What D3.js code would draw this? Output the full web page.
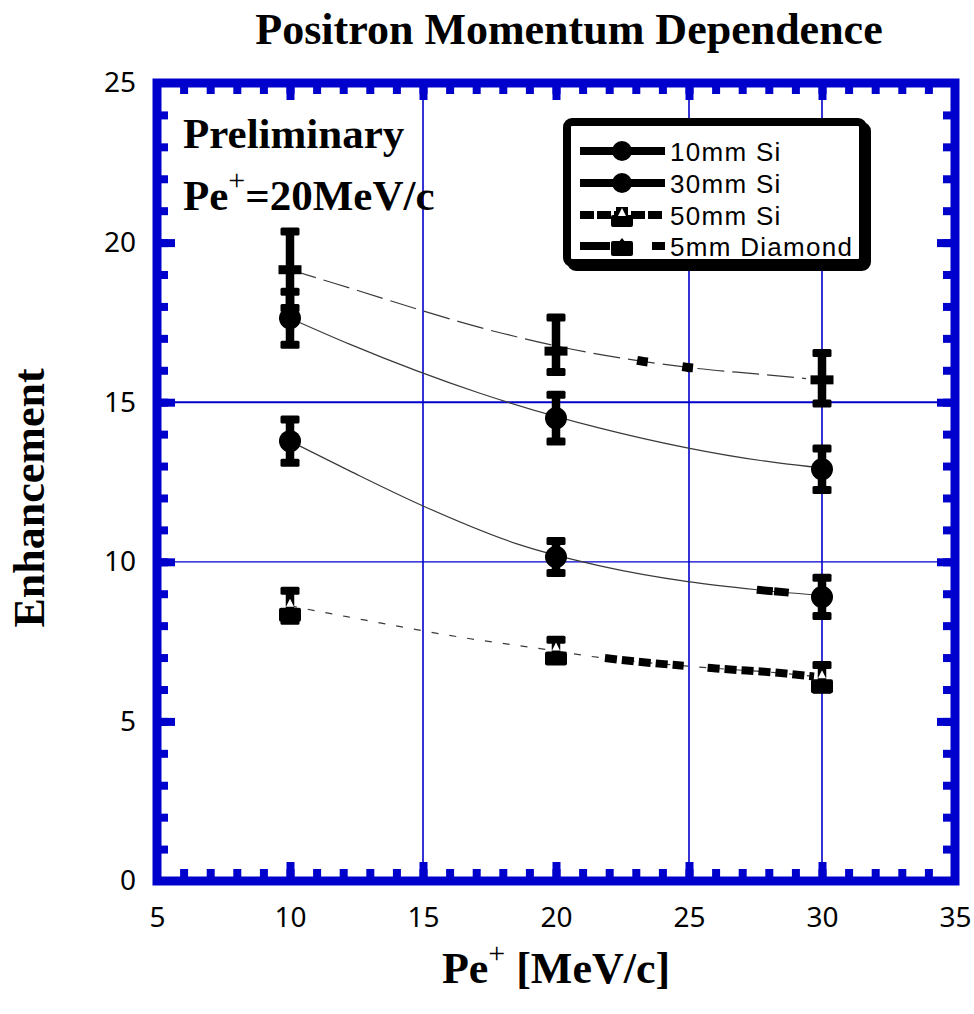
<!DOCTYPE html>
<html><head><meta charset="utf-8">
<script src="https://cdn.jsdelivr.net/npm/d3@7"></script>
<style>body{margin:0;background:#fff}svg{display:block}</style>
</head><body>
<svg id="c" width="974" height="1014"></svg>
<script>
// ---------- data ----------
const xTicks = [5, 10, 15, 20, 25, 30, 35];
const yTicks = [0, 5, 10, 15, 20, 25];
const gridX = [15, 25, 30];
const gridY = [10, 15];
const momentum = [10, 20, 30];
const seriesNames = ["10mm Si", "30mm Si", "50mm Si", "5mm Diamond"];
const si10 = [13.78, 10.15, 8.9];
const si10Err = [0.68, 0.5, 0.6];
const si30 = [17.63, 14.5, 12.9];
const si30Err = [0.83, 0.73, 0.65];
const si50 = [8.62, 7.25, 6.38];
const si50Err = [0.47, 0.31, 0.39];
const dia = [19.15, 16.6, 15.7];
const diaErrUp = [1.2, 1.05, 0.84];
const diaErrDown = [1.2, 0.65, 0.74];
// fitted curves
const fit10X = [10, 12.26, 15, 18.65, 21.65, 24.96, 27.56, 30];
const fit10Y = [13.78, 12.84, 11.75, 10.53, 9.875, 9.38, 9.125, 8.94];
const fit30X = [10, 12.26, 17.14, 21.65, 28.42, 30];
const fit30Y = [17.63, 16.81, 15.28, 14.19, 13.09, 12.94];
const fit50X = [10, 12.14, 16.77, 19.4, 21.65, 23.46, 26.02, 28.65, 30];
const fit50Y = [8.62, 8.28, 7.59, 7.28, 7.0, 6.84, 6.66, 6.5, 6.38];
const fitDX = [10, 11.69, 17.97, 20.6, 23.27, 24.96, 27.67, 29.4];
const fitDY = [19.15, 18.72, 17.16, 16.66, 16.28, 16.09, 15.875, 15.74];
// stretches of the curves drawn with thick dashes
const thick50 = [[21.84, 24.8], [25.7, 29.7]];
const thick10 = [[27.55, 28.15], [28.2, 28.75]];
const thickD = [[23.05, 23.45], [24.75, 25.15]];

// ---------- setup ----------
const svg = d3.select('#c');
const blue = '#0000cc';
const x = d3.scaleLinear().domain([5, 35]).range([157, 955]);
const y = d3.scaleLinear().domain([0, 25]).range([881, 83]);
const line = d3.line().x(d => x(d[0])).y(d => y(d[1])).curve(d3.curveMonotoneX);
const pts = (X, Y) => X.map((v, i) => [v, Y[i]]);

// gridlines
svg.append('g').selectAll('line').data(gridX).join('line')
  .attr('x1', d => x(d)).attr('x2', d => x(d)).attr('y1', y(0)).attr('y2', y(25))
  .attr('stroke', blue).attr('stroke-width', 1.6);
svg.append('g').selectAll('line').data(gridY).join('line')
  .attr('x1', x(5)).attr('x2', x(35)).attr('y1', d => y(d)).attr('y2', d => y(d))
  .attr('stroke', blue).attr('stroke-width', d => d === 15 ? 2 : 1.3);

// thin fit curves
const curveG = svg.append('g').attr('fill', 'none').attr('stroke', '#3a3a3a').attr('stroke-width', 1.2);
curveG.append('path').attr('d', line(pts(fit10X, fit10Y)));
curveG.append('path').attr('d', line(pts(fit30X, fit30Y)));
curveG.append('path').attr('d', line(pts(fit50X, fit50Y))).attr('stroke-dasharray', '7,11');
curveG.append('path').attr('d', line(pts(fitDX, fitDY))).attr('stroke-dasharray', '27,8');

// thick overlay segments along curves
function subCurve(P, a, b) {
  const at = v => {
    for (let i = 0; i < P.length - 1; i++) {
      if (v >= P[i][0] && v <= P[i + 1][0]) {
        const t = (v - P[i][0]) / (P[i + 1][0] - P[i][0]);
        return [v, P[i][1] + t * (P[i + 1][1] - P[i][1])];
      }
    }
    return P[P.length - 1];
  };
  const out = [at(a)];
  P.forEach(p => { if (p[0] > a && p[0] < b) out.push(p); });
  out.push(at(b));
  return out;
}
function overlay(P, ranges, w, dash) {
  ranges.forEach(r => {
    svg.append('path').attr('d', line(subCurve(P, r[0], r[1])))
      .attr('fill', 'none').attr('stroke', '#000').attr('stroke-width', w)
      .attr('stroke-dasharray', dash || null);
  });
}
overlay(pts(fit50X, fit50Y), thick50, 8, '12,5');
overlay(pts(fit10X, fit10Y), thick10, 8, null);
overlay(pts(fitDX, fitDY), thickD, 9, null);

// error bars & markers
const markG = svg.append('g');
function errBar(cx, yTop, yBot) {
  markG.append('rect').attr('x', cx - 4.25).attr('y', yTop).attr('width', 8.5).attr('height', yBot - yTop).attr('fill', '#000');
  [yTop, yBot].forEach(yy => markG.append('rect').attr('x', cx - 9.5).attr('y', yy - 4).attr('width', 19).attr('height', 8).attr('rx', 1.5).attr('fill', '#000'));
}
momentum.forEach((m, i) => {
  const cx = x(m);
  // diamond
  errBar(cx, y(dia[i] + diaErrUp[i]), y(dia[i] - diaErrDown[i]));
  markG.append('rect').attr('x', cx - 11.5).attr('y', y(dia[i]) - 4.5).attr('width', 23).attr('height', 9).attr('fill', '#000');
  // circles
  errBar(cx, y(si30[i] + si30Err[i]), y(si30[i] - si30Err[i]));
  markG.append('circle').attr('cx', cx).attr('cy', y(si30[i])).attr('r', 11).attr('fill', '#000');
  errBar(cx, y(si10[i] + si10Err[i]), y(si10[i] - si10Err[i]));
  markG.append('circle').attr('cx', cx).attr('cy', y(si10[i])).attr('r', 11).attr('fill', '#000');
  // 50mm
  const py = y(si50[i]);
  errBar(cx, y(si50[i] + si50Err[i]), y(si50[i] - si50Err[i]));
  markG.append('rect').attr('x', cx - 11).attr('y', py + 2).attr('width', 22).attr('height', 14).attr('rx', 2).attr('fill', '#000');
  markG.append('path').attr('d', `M${cx},${py - 7}L${cx + 4},${py + 1}L${cx - 4},${py + 1}Z`).attr('fill', '#fff');
});

// ---------- axes / frame ----------
function ticks(axisFn, scale, vals, size, tr) {
  svg.append('g').attr('transform', tr)
    .call(axisFn(scale).tickValues(vals).tickSize(size).tickFormat(''))
    .call(g => { g.select('.domain').remove(); g.selectAll('line').attr('stroke', blue).attr('stroke-width', 8); });
}
const minorX = d3.range(6, 35), majorX = [10, 15, 20, 25, 30];
const minorY = d3.range(1, 25), majorY = [5, 10, 15, 20];
ticks(d3.axisBottom, x, minorX, -12, `translate(0,${y(0)})`);
ticks(d3.axisBottom, x, majorX, -19, `translate(0,${y(0)})`);
ticks(d3.axisTop, x, minorX, -11, `translate(0,${y(25)})`);
ticks(d3.axisTop, x, majorX, -17, `translate(0,${y(25)})`);
ticks(d3.axisLeft, y, minorY, -11, `translate(${x(5)},0)`);
ticks(d3.axisLeft, y, majorY, -18, `translate(${x(5)},0)`);
ticks(d3.axisRight, y, minorY, -12, `translate(${x(35)},0)`);
ticks(d3.axisRight, y, majorY, -18, `translate(${x(35)},0)`);
svg.append('rect').attr('x', x(5)).attr('y', y(25)).attr('width', x(35) - x(5)).attr('height', y(0) - y(25))
  .attr('fill', 'none').attr('stroke', blue).attr('stroke-width', 9);

const labFont = '"Noto Sans", sans-serif';
svg.append('g').attr('transform', `translate(0,${y(0)})`)
  .call(d3.axisBottom(x).tickValues(xTicks).tickSize(0).tickPadding(26).tickFormat(d3.format('d')))
  .call(g => { g.select('.domain').remove(); g.selectAll('text').attr('font-family', labFont).attr('font-size', 28).attr('fill', '#000'); });
svg.append('g').attr('transform', `translate(${x(5)},0)`)
  .call(d3.axisLeft(y).tickValues(yTicks).tickSize(0).tickPadding(21).tickFormat(d3.format('d')))
  .call(g => { g.select('.domain').remove(); g.selectAll('text').attr('font-family', labFont).attr('font-size', 28).attr('fill', '#000'); });

// ---------- legend ----------
const lg = svg.append('g');
lg.append('rect').attr('x', 571).attr('y', 126).attr('width', 296).attr('height', 141).attr('rx', 5)
  .attr('fill', '#000').attr('stroke', '#000').attr('stroke-width', 8);
lg.append('rect').attr('x', 567).attr('y', 122).attr('width', 296).attr('height', 141).attr('rx', 5)
  .attr('fill', '#fff').attr('stroke', '#000').attr('stroke-width', 8);
const rowY = [151, 183, 215, 246];
const lx0 = 580, lx1 = 665, lmx = 622;
[0, 1].forEach(k => {
  lg.append('line').attr('x1', lx0).attr('x2', lx1).attr('y1', rowY[k]).attr('y2', rowY[k]).attr('stroke', '#000').attr('stroke-width', 8);
  lg.append('circle').attr('cx', lmx).attr('cy', rowY[k]).attr('r', 10).attr('fill', '#000');
});
lg.append('line').attr('x1', lx0).attr('x2', lx1).attr('y1', rowY[2]).attr('y2', rowY[2]).attr('stroke', '#000').attr('stroke-width', 8).attr('stroke-dasharray', '14,3');
lg.append('rect').attr('x', lmx - 11).attr('y', rowY[2]).attr('width', 22).attr('height', 12).attr('rx', 2).attr('fill', '#000');
lg.append('rect').attr('x', lmx - 6).attr('y', rowY[2] - 8).attr('width', 12).attr('height', 10).attr('fill', '#000');
lg.append('path').attr('d', `M${lmx},${rowY[2] - 7}L${lmx + 4},${rowY[2] + 1}L${lmx - 4},${rowY[2] + 1}Z`).attr('fill', '#fff');
lg.append('line').attr('x1', lx0).attr('x2', 610).attr('y1', rowY[3]).attr('y2', rowY[3]).attr('stroke', '#000').attr('stroke-width', 8);
lg.append('line').attr('x1', 652).attr('x2', lx1).attr('y1', rowY[3]).attr('y2', rowY[3]).attr('stroke', '#000').attr('stroke-width', 8);
lg.append('rect').attr('x', lmx - 11).attr('y', rowY[3] - 5).attr('width', 22).attr('height', 15).attr('rx', 2).attr('fill', '#000');
lg.append('path').attr('d', `M${lmx},${rowY[3] - 8}L${lmx + 4},${rowY[3] - 3}L${lmx - 4},${rowY[3] - 3}Z`).attr('fill', '#000');
lg.selectAll('text.lt').data(seriesNames).join('text').attr('class', 'lt')
  .attr('x', 670).attr('y', (d, i) => rowY[i] + 10)
  .attr('font-family', '"Liberation Sans", Arial, sans-serif').attr('font-size', 26).attr('letter-spacing', 1.3)
  .attr('fill', '#000').text(d => d);

// ---------- texts ----------
const serif = '"Liberation Serif", "Times New Roman", serif';
svg.append('text').attr('x', 569).attr('y', 44).attr('text-anchor', 'middle')
  .attr('font-family', serif).attr('font-weight', 'bold').attr('font-size', 44).text('Positron Momentum Dependence');
svg.append('text').attr('x', 183).attr('y', 148)
  .attr('font-family', serif).attr('font-weight', 'bold').attr('font-size', 43).text('Preliminary');
const pt = svg.append('text').attr('x', 183).attr('y', 210)
  .attr('font-family', serif).attr('font-weight', 'bold').attr('font-size', 43);
pt.append('tspan').text('Pe');
pt.append('tspan').attr('dy', -20).attr('font-size', 30).attr('font-weight', 'normal').text('+');
pt.append('tspan').attr('dy', 20).text('=20MeV/c');
svg.append('text').attr('transform', 'translate(44,498) rotate(-90)').attr('text-anchor', 'middle')
  .attr('font-family', serif).attr('font-weight', 'bold').attr('font-size', 44).text('Enhancement');
const xt = svg.append('text').attr('x', 556).attr('y', 983).attr('text-anchor', 'middle')
  .attr('font-family', serif).attr('font-weight', 'bold').attr('font-size', 44);
xt.append('tspan').text('Pe');
xt.append('tspan').attr('dy', -20).attr('font-size', 30).attr('font-weight', 'normal').text('+');
xt.append('tspan').attr('dy', 20).text(' [MeV/c]');
</script>
</body></html>
